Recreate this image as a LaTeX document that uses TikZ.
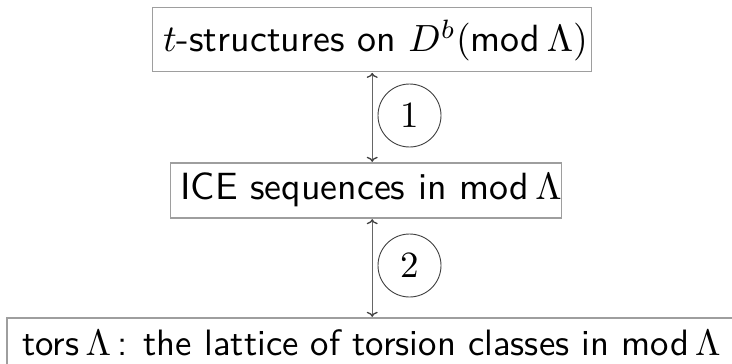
\documentclass[tikz,border=0pt]{standalone}
\usepackage{graphicx}
\usetikzlibrary{arrows.meta}
\definecolor{boxgray}{gray}{0.62}
\definecolor{arrgray}{gray}{0.4}
\definecolor{tipgray}{gray}{0.25}
\newcommand{\bigtxt}[1]{\scalebox{3.79}{\sffamily #1}}
\newcommand{\smalltxt}[1]{\scalebox{3.67}{\sffamily #1}}
\newcommand{\numtxt}[1]{\scalebox{3.7}{\rmfamily #1}}
\begin{document}
\begin{tikzpicture}[x=1pt,y=-1pt,
  box/.style={draw=boxgray, line width=1.4pt, inner sep=0pt,
    text height=28.4pt, text depth=9.5pt},
  num/.style={draw=tipgray, line width=0.9pt, circle, minimum size=63pt, inner sep=0pt},
  dbl/.style={draw=arrgray, line width=1.3pt,
    {To[length=5pt,width=11pt,color=tipgray]}-{To[length=5pt,width=11pt,color=tipgray]},
    shorten <=0.5pt, shorten >=0.5pt}]
\useasboundingbox (0,0) rectangle (732,364);
\node[box, text depth=3.8pt, minimum width=439pt, minimum height=64pt] (t) at (372.2,39.7)
  {\hspace*{6.6pt}\bigtxt{$t$-structures on $D^b($mod\,$\Lambda)$}};
\node[box, minimum width=388pt, minimum height=55pt] (m) at (366,190.5)
  {\hspace*{10pt}\bigtxt{ICE sequences in mod\,$\Lambda$}};
\node[box, text height=27.5pt, minimum width=731pt, minimum height=56pt] (b) at (372.5,346)
  {\hspace*{-2pt}\smalltxt{tors\,$\Lambda$\,: the lattice of torsion classes in mod\,$\Lambda$}};
\node[num] (n1) at (409.5,115.5) {\numtxt{1}};
\node[num] (n2) at (409.5,265.5) {\numtxt{2}};
\draw[dbl] (t.south) -- (t.south |- m.north);
\draw[dbl] (t.south |- m.south) -- (t.south |- b.north);
\end{tikzpicture}
\end{document}
